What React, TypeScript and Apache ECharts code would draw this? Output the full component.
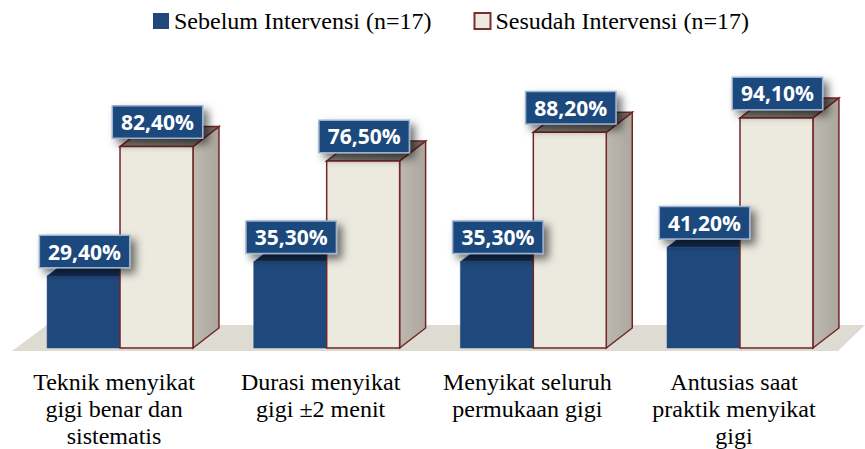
import React, { useEffect, useRef } from "react";
import * as echarts from "echarts";

const categories = [
  "Teknik menyikat\ngigi benar dan\nsistematis",
  "Durasi menyikat\ngigi ±2 menit",
  "Menyikat seluruh\npermukaan gigi",
  "Antusias saat\npraktik menyikat\ngigi",
];
const seriesNames = ["Sebelum Intervensi (n=17)", "Sesudah Intervensi (n=17)"];
const beforeValues = [29.4, 35.3, 35.3, 41.2];
const afterValues = [82.4, 76.5, 88.2, 94.1];

const DX = 26;
const DY = 20;
const BAR_FRAC = 0.353;

const fmt = (v: number) => v.toFixed(2).replace(".", ",") + "%";

function makeBarRender(side: "left" | "right", colors: any) {
  return (params: any, api: any) => {
    const idx = api.value(0);
    const val = api.value(1);
    const top = api.coord([idx, val]);
    const base = api.coord([idx, 0]);
    const band = api.size([1, 0])[0];
    const w = band * BAR_FRAC;
    const x0 = side === "left" ? top[0] - w : top[0];
    const x1 = x0 + w;
    const yT = top[1];
    const yB = base[1];
    const stroke = colors.stroke;
    const lw = colors.strokeWidth;
    const children: any[] = [
      {
        type: "polygon",
        shape: { points: [[x1, yT], [x1 + DX, yT - DY], [x1 + DX, yB - DY], [x1, yB]] },
        style: { fill: colors.side, stroke, lineWidth: lw },
      },
      {
        type: "polygon",
        shape: { points: [[x0, yT], [x1, yT], [x1 + DX, yT - DY], [x0 + DX, yT - DY]] },
        style: { fill: colors.top, stroke, lineWidth: lw },
      },
      {
        type: "rect",
        shape: { x: x0, y: yT, width: w, height: yB - yT },
        style: { fill: colors.front, stroke, lineWidth: lw },
      },
      {
        type: "text",
        z2: 100,
        x: (x0 + x1) / 2 + 1,
        y: yT - 9,
        style: {
          text: fmt(val),
          fill: "#ffffff",
          font: 'bold 21px "Open Sans"',
          align: "center",
          verticalAlign: "bottom",
          backgroundColor: "#1F497D",
          borderColor: "#9BB1CE",
          borderWidth: 1.5,
          padding: [5, 8, 5, 8],
          shadowColor: "rgba(0,0,0,0.55)",
          shadowBlur: 9,
          shadowOffsetX: 5,
          shadowOffsetY: 5,
        },
      },
    ];
    return { type: "group", children };
  };
}

export default function App() {
  const ref = useRef<HTMLDivElement>(null);
  useEffect(() => {
    if (!ref.current) return;
    const chart = echarts.init(ref.current, undefined, { renderer: "svg" });
    const option: any = {
      animation: false,
      backgroundColor: "#ffffff",
      legend: {
        data: seriesNames,
        left: 148,
        top: 4,
        itemWidth: 16,
        itemHeight: 16,
        itemGap: 42,
        icon: "rect",
        textStyle: { fontFamily: "Liberation Serif", fontSize: 24, color: "#000" },
      },
      grid: { left: 16.7, right: 21.7, top: 103.5, bottom: 98.5 },
      xAxis: {
        type: "category",
        data: categories,
        axisLine: { show: false },
        axisTick: { show: false },
        axisLabel: {
          interval: 0,
          margin: 20,
          fontFamily: "Liberation Serif",
          fontSize: 24,
          lineHeight: 27,
          color: "#000",
          padding: [0, 12, 0, 0],
        },
      },
      yAxis: { type: "value", min: 0, max: 100, show: false, splitLine: { show: false } },
      series: [
        {
          type: "custom",
          name: "floor",
          data: [[0, 0]],
          encode: { x: 0, y: 1 },
          silent: true,
          renderItem: (params: any, api: any) => {
            const c0 = api.coord([0, 0]);
            const c3 = api.coord([categories.length - 1, 0]);
            const yb = c0[1];
            return {
              type: "polygon",
              shape: {
                points: [
                  [c0[0] - 108, yb + 3],
                  [c3[0] + 98, yb + 3],
                  [c3[0] + 125, yb - 23],
                  [c0[0] - 73, yb - 23],
                ],
              },
              style: { fill: "#DEDBD3" },
            };
          },
        },
        {
          type: "custom",
          name: seriesNames[0],
          data: beforeValues.map((v, i) => [i, v]),
          encode: { x: 0, y: 1 },
          itemStyle: { color: "#1F497D" },
          renderItem: makeBarRender("left", {
            front: "#1F497D",
            side: "#173A65",
            top: "#142F55",
            stroke: "#1F497D",
            strokeWidth: 0.5,
          }),
        },
        {
          type: "custom",
          name: seriesNames[1],
          data: afterValues.map((v, i) => [i, v]),
          encode: { x: 0, y: 1 },
          itemStyle: { color: "#ECE9DF", borderColor: "#7B2C2C", borderWidth: 1.5 },
          renderItem: makeBarRender("right", {
            front: "#ECE9DF",
            side: new echarts.graphic.LinearGradient(0, 0, 1, 0, [
              { offset: 0, color: "#BDB9B0" },
              { offset: 1, color: "#ABA79E" },
            ]),
            top: new echarts.graphic.LinearGradient(0, 0, 1, 0, [
              { offset: 0, color: "#8E8A81" },
              { offset: 1, color: "#6F6C64" },
            ]),
            stroke: "#722626",
            strokeWidth: 1.5,
          }),
        },
      ],
    };
    chart.setOption(option);
    return () => chart.dispose();
  }, []);
  return (
    <div
      ref={ref}
      style={{ position: "absolute", left: 0, top: 0, width: 865, height: 449 }}
    />
  );
}
